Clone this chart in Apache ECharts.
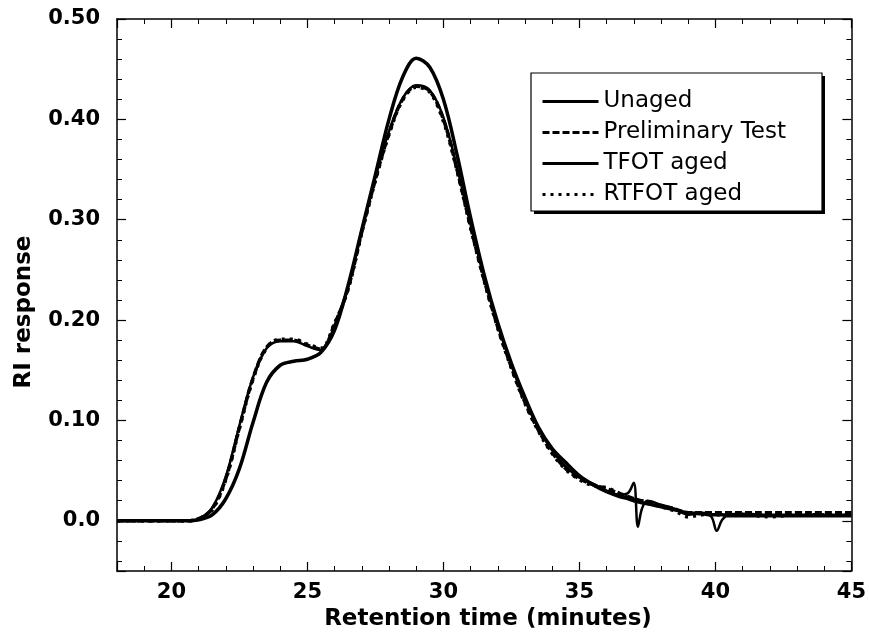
<!DOCTYPE html>
<html>
<head>
<meta charset="utf-8">
<script src="https://cdn.jsdelivr.net/npm/echarts@6/dist/echarts.min.js"></script>
<style>html,body{margin:0;padding:0;background:#fff}#c{width:869px;height:635px}</style>
</head>
<body>
<div id="c"></div>
<script>
const seriesNames = ['Unaged', 'Preliminary Test', 'TFOT aged', 'RTFOT aged'];
const time = [18,19,20,20.5,21,21.5,22,22.5,23,23.5,24,24.5,25,25.5,26,26.5,27,27.5,28,28.5,29,29.5,30,30.5,31,31.5,32,32.5,33,33.5,34,34.5,35,35.5,36,36.5,36.8,37,37.15,37.3,37.5,38,38.5,39,39.5,39.85,40.05,40.25,40.5,41,42,43,44,45];
const unaged = [0,0,0,0,0.001, 0.006,0.022,0.052,0.098,0.138, 0.155,0.159,0.161,0.168,0.19, 0.235,0.29,0.345,0.4,0.442, 0.461,0.452,0.42,0.365,0.302, 0.245,0.197,0.157,0.123,0.093, 0.072,0.058,0.045,0.036,0.029, 0.024,0.022,0.02,0.019,0.018, 0.017,0.014,0.011,0.008,0.007, 0.006,0.006,0.006,0.005,0.005, 0.005,0.005,0.005,0.005];
const preliminary = [0,0,0,0,0.002, 0.012,0.042,0.093,0.142,0.173, 0.18,0.18,0.175,0.171,0.196, 0.232,0.288,0.34,0.386,0.42, 0.433,0.428,0.4,0.35,0.293, 0.24,0.193,0.153,0.118,0.09, 0.068,0.052,0.042,0.036,0.032, 0.027,0.024,0.022,0.021,0.02, 0.019,0.015,0.012,0.008,0.008, 0.008,0.008,0.008,0.008,0.008, 0.008,0.008,0.008,0.008];
const tfot = [0,0,0,0,0.002, 0.013,0.044,0.095,0.143,0.172, 0.179,0.179,0.174,0.17,0.195, 0.233,0.289,0.342,0.388,0.421, 0.434,0.429,0.402,0.352,0.295, 0.242,0.195,0.155,0.12,0.092, 0.07,0.054,0.043,0.037,0.03, 0.026,0.028,0.038,-0.006,0.012, 0.02,0.016,0.012,0.006,0.008, 0.004,-0.01,0.001,0.006,0.007, 0.006,0.006,0.006,0.006];
const rtfot = [0,0,0,0,0.002, 0.011,0.041,0.092,0.141,0.172, 0.181,0.181,0.176,0.172,0.197, 0.231,0.287,0.339,0.385,0.419, 0.432,0.427,0.398,0.349,0.292, 0.239,0.192,0.152,0.117,0.089, 0.067,0.051,0.041,0.035,0.033, 0.027,0.023,0.021,0.02,0.019, 0.018,0.014,0.01,0.004,0.006, 0.007,0.006,0.006,0.006,0.006, 0.004,0.006,0.006,0.006];
const xTitle = 'Retention time (minutes)';
const yTitle = 'RI response';

const values = [unaged, preliminary, tfot, rtfot];
const lineTypes = ['solid', [7, 3], 'solid', [3, 5]];
const lineWidths = [3.5, 3.5, 2.5, 3.5];

const chart = echarts.init(document.getElementById('c'), null, {renderer: 'canvas'});
const FONT = 'DejaVu Sans';
const axisCommon = {
  axisLine: {show: true, onZero: false, lineStyle: {color: '#000', width: 1.5}},
  axisTick: {show: true, inside: true, length: 9, lineStyle: {color: '#000', width: 1.2}},
  minorTick: {show: true, splitNumber: 5, length: 5, lineStyle: {color: '#000', width: 1}},
  splitLine: {show: false}
};
const xBase = Object.assign({type: 'value', min: 18, max: 45}, axisCommon);
const yBase = Object.assign({type: 'value', min: -0.05, max: 0.5}, axisCommon);

chart.setOption({
  animation: false,
  backgroundColor: '#fff',
  grid: {left: 117, right: 12, top: 19, bottom: 64, containLabel: false},
  xAxis: [
    Object.assign({}, xBase, {position: 'bottom',
      axisLabel: {show: true, showMinLabel: false, showMaxLabel: true, margin: 11,
        fontFamily: FONT, fontWeight: 'bold', fontSize: 21, color: '#000'}}),
    Object.assign({}, xBase, {position: 'top', axisLabel: {show: false}})
  ],
  yAxis: [
    Object.assign({}, yBase, {position: 'left',
      axisLabel: {show: true, showMinLabel: false, margin: 17,
        fontFamily: FONT, fontWeight: 'bold', fontSize: 21, color: '#000',
        formatter: v => (Math.abs(v) < 1e-9 ? '0.0' : v.toFixed(2))}}),
    Object.assign({}, yBase, {position: 'right', axisLabel: {show: false}})
  ],
  legend: {
    show: true, z: 10, orient: 'vertical', left: 541, top: 90, padding: 0,
    itemWidth: 56, itemHeight: 14, itemGap: 8,
    itemStyle: {opacity: 0},
    lineStyle: {width: 3},
    textStyle: {fontFamily: FONT, fontSize: 23, color: '#000'},
    data: seriesNames
  },
  graphic: [
    {type: 'rect', z: 3, shape: {x: 534, y: 76, width: 291, height: 138},
      style: {fill: '#000', stroke: null}},
    {type: 'rect', z: 4, shape: {x: 531, y: 73, width: 291, height: 138},
      style: {fill: '#fff', stroke: '#000', lineWidth: 1.2}},
    {type: 'text', z: 10, x: 488, y: 619,
      style: {text: xTitle, font: 'bold 23px "DejaVu Sans"', textAlign: 'center', textVerticalAlign: 'middle', fill: '#000'}},
    {type: 'text', z: 10, x: 24, y: 312, rotation: Math.PI / 2,
      style: {text: yTitle, font: 'bold 23px "DejaVu Sans"', textAlign: 'center', textVerticalAlign: 'middle', fill: '#000'}}
  ],
  series: seriesNames.map((name, i) => ({
    name: name, type: 'line', xAxisIndex: 0, yAxisIndex: 0,
    data: time.map((t, j) => [t, values[i][j]]),
    symbol: 'none', smooth: 0.35, clip: true,
    lineStyle: {color: '#000', width: lineWidths[i], type: lineTypes[i]},
    itemStyle: {color: '#000'}
  }))
});
</script>
</body>
</html>
